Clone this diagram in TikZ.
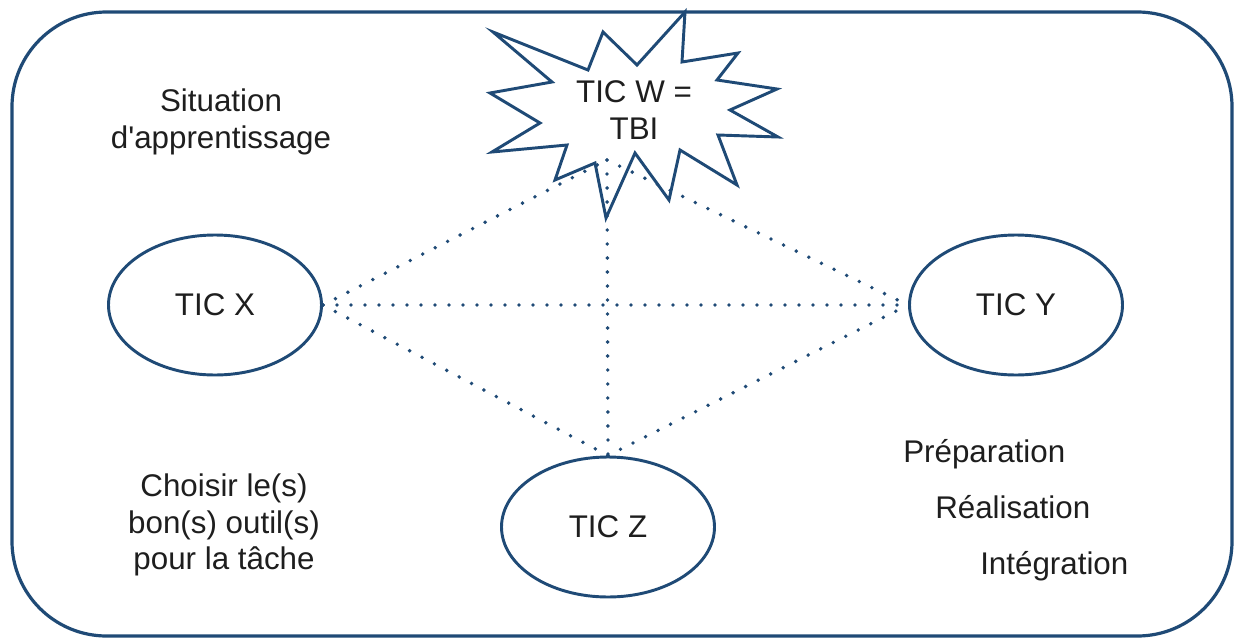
\documentclass[tikz,border=0pt]{standalone}
\usepackage{fontspec}
\setmainfont{Liberation Sans}[Ligatures=TeXOff]
\usetikzlibrary{shapes.geometric}
\definecolor{frameblue}{RGB}{31,74,118}
\definecolor{txt}{RGB}{30,30,30}
\tikzset{
  px/.style={x=0.75pt,y=-0.75pt},
  frame/.style={draw=frameblue,line width=2.4pt},
  oval/.style={ellipse,draw=frameblue,line width=2.2pt,minimum width=159.75pt,minimum height=105pt,inner sep=0pt,text=txt,font=\fontsize{23.5}{28}\selectfont},
  lbl/.style={text=txt,font=\fontsize{23.5}{27.5}\selectfont,align=center,inner sep=0pt},
  dotline/.style={draw=frameblue,line width=2.9pt,line cap=round,dash pattern=on 0pt off 10.5pt},
}
\begin{document}
\begin{tikzpicture}[px]
\useasboundingbox (0,0) rectangle (1235,639);
\fill[white] (0,0) rectangle (1235,639);
% outer frame
\draw[frame,rounded corners=71pt] (12,12) rectangle (1232,636);
% ellipses
\node[oval] (x) at (215,305) {TIC X};
\node[oval] (y) at (1016,305) {TIC Y};
\node[oval] (z) at (608,527) {TIC Z};
% starburst
\draw[frame,line width=2.2pt,line join=miter] (685,12) -- (682,62) -- (738,53) -- (717,80) -- (777,89) -- (730,110) -- (778,137) -- (718,135) -- (737,185) -- (680,150) -- (669,200) -- (635,153) -- (606,218) -- (595,163) -- (555,180) -- (567,145) -- (492,152) -- (540,123) -- (490,93) -- (552,82) -- (493,32) -- (588,70) -- (603,32) -- (637,65) -- cycle;
\node[lbl] (w) at (634,110) {TIC W =\\TBI};
\coordinate (wb) at (607,160);
% connectors
\draw[dotline] (x.east) -- (wb);
\draw[dotline] (x.east) -- (y.west);
\draw[dotline] (x.east) -- (z.north);
\draw[dotline] (wb) -- (y.west);
\draw[dotline] (wb) -- (z.north);
\draw[dotline] (z.north) -- (y.west);
% texts
\node[lbl] (sit) at (221,122) {Situation\\d'apprentissage};
\node[lbl] (cho) at (224,525) {Choisir le(s)\\bon(s) outil(s)\\pour la tâche};
\node[lbl,anchor=base west] (prep) at (903,462) {Préparation};
\node[lbl,anchor=base west] (real) at (935,518) {Réalisation};
\node[lbl,anchor=base west] (integ) at (980,574) {Intégration};
\end{tikzpicture}
\end{document}
